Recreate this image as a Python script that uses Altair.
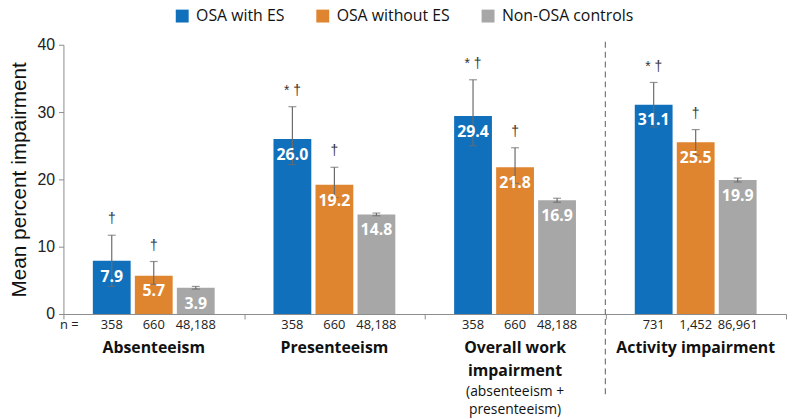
import altair as alt
import pandas as pd

groups = ["Absenteeism", "Presenteeism", "Overall work impairment", "Activity impairment"]
group_titles = ["Absenteeism", "Presenteeism", "Overall work\nimpairment", "Activity impairment"]
series = ["OSA with ES", "OSA without ES", "Non-OSA controls"]
colors = ["#1170BB", "#E0852F", "#A7A7A7"]

mean_with_es = [7.9, 26.0, 29.4, 31.1]
mean_without_es = [5.7, 19.2, 21.8, 25.5]
mean_controls = [3.9, 14.8, 16.9, 19.9]

hi_with_es = [11.7, 30.8, 34.8, 34.4]
lo_with_es = [4.1, 22.2, 25.0, 27.8]
hi_without_es = [7.8, 21.8, 24.7, 27.4]
lo_without_es = [4.4, 17.3, 19.4, 23.6]
hi_controls = [4.1, 15.0, 17.2, 20.2]
lo_controls = [3.7, 14.6, 16.6, 19.6]

n_with_es = ["358", "358", "358", "731"]
n_without_es = ["660", "660", "660", "1,452"]
n_controls = ["48,188", "48,188", "48,188", "86,961"]

sig_with_es = ["†", "* †", "* †", "* †"]
sig_without_es = ["†", "†", "†", "†"]
sig_controls = ["", "", "", ""]

rows = []
for s, m, hi, lo, n, sig in [
    (series[0], mean_with_es, hi_with_es, lo_with_es, n_with_es, sig_with_es),
    (series[1], mean_without_es, hi_without_es, lo_without_es, n_without_es, sig_without_es),
    (series[2], mean_controls, hi_controls, lo_controls, n_controls, sig_controls),
]:
    for i, g in enumerate(groups):
        rows.append({"group": g, "series": s, "mean": m[i], "hi": hi[i], "lo": lo[i],
                     "n": n[i], "sig": sig[i], "label": f"{m[i]:.1f}"})
df = pd.DataFrame(rows)

titles_df = pd.DataFrame({"group": groups, "title": group_titles})
sub_df = pd.DataFrame({"group": ["Overall work impairment"], "title": ["(absenteeism +\npresenteeism)"]})
divider_df = pd.DataFrame({"group": ["Activity impairment"]})

W, H = 730, 272
FONT = "Open Sans"

x_enc = alt.X("group:N", scale=alt.Scale(domain=groups, paddingInner=0, paddingOuter=0),
              axis=alt.Axis(labels=False, title=None, tickBand="extent", tickSize=5,
                            domainColor="#8c8c8c", tickColor="#8c8c8c"))
xo_enc = alt.XOffset("series:N", scale=alt.Scale(domain=series, paddingInner=0.1, paddingOuter=0.7))
y_scale = alt.Scale(domain=[0, 40])

base = alt.Chart(df)

bars = base.mark_bar().encode(
    x=x_enc,
    xOffset=xo_enc,
    y=alt.Y("mean:Q", scale=y_scale,
            axis=alt.Axis(values=[0, 10, 20, 30, 40], title="Mean percent impairment",
                          grid=False, tickSize=5, labelPadding=4, titlePadding=8,
                          labelFont="Liberation Sans", labelFontSize=16, labelColor="#222",
                          titleFont="Liberation Sans", titleFontSize=21, titleFontWeight="normal",
                          titleColor="#111", domainColor="#8c8c8c", tickColor="#8c8c8c")),
    color=alt.Color("series:N", scale=alt.Scale(domain=series, range=colors),
                    legend=alt.Legend(title=None, orient="none", direction="horizontal",
                                      legendX=112, legendY=-37, symbolType="square",
                                      symbolSize=170, symbolStrokeWidth=0, labelFont=FONT,
                                      labelFontSize=16, labelColor="#111", columnPadding=30,
                                      labelOffset=6, padding=0, labelLimit=300)),
)

err = base.mark_rule(color="#6b6b6b", strokeWidth=1.2).encode(
    x="group:N", xOffset="series:N", y="lo:Q", y2="hi:Q")
cap_hi = base.mark_tick(color="#6b6b6b", orient="horizontal", size=8, thickness=1.2).encode(
    x="group:N", xOffset="series:N", y="hi:Q")
cap_lo = base.mark_tick(color="#6b6b6b", orient="horizontal", size=8, thickness=1.2).encode(
    x="group:N", xOffset="series:N", y="lo:Q")

labels = base.mark_text(color="white", font=FONT, fontWeight="bold", fontSize=16,
                        baseline="middle", dy=16).encode(
    x="group:N", xOffset="series:N", y="mean:Q", text="label:N")

sig = base.mark_text(color="#333333", font="Liberation Sans", fontSize=14,
                     baseline="middle", dy=-16).encode(
    x="group:N", xOffset="series:N", y="hi:Q", text="sig:N")

nlab = base.mark_text(color="#222", font=FONT, fontSize=13, baseline="middle").encode(
    x="group:N", xOffset="series:N", y=alt.value(H + 11), text="n:N")

n_eq = alt.Chart(pd.DataFrame({"t": ["n ="]})).mark_text(
    color="#222", font=FONT, fontSize=13, baseline="middle").encode(
    x=alt.value(6), y=alt.value(H + 11), text="t:N")

titles = alt.Chart(titles_df).mark_text(
    color="#111", font=FONT, fontWeight="bold", fontSize=16, baseline="middle",
    lineBreak="\n", lineHeight=24).encode(
    x="group:N", y=alt.value(H + 34), text="title:N")

subtitle = alt.Chart(sub_df).mark_text(
    color="#111", font=FONT, fontSize=14, baseline="middle",
    lineBreak="\n", lineHeight=18).encode(
    x="group:N", y=alt.value(H + 79), text="title:N")

divider = alt.Chart(divider_df).mark_rule(color="#777", strokeDash=[6, 4], strokeWidth=1.2).encode(
    x=alt.X("group:N", bandPosition=0), y=alt.value(-3), y2=alt.value(H + 82))

chart = alt.layer(bars, err, cap_hi, cap_lo, labels, sig, nlab, n_eq, titles, subtitle, divider).properties(
    width=W, height=H,
    autosize=alt.AutoSizeParams(type="none"),
    padding={"left": 56, "top": 35, "right": 1, "bottom": 112},
).configure_view(stroke=None).configure_axis(labelFont="Liberation Sans")

chart.save("out.html", embed_options={"renderer": "svg", "actions": False})
